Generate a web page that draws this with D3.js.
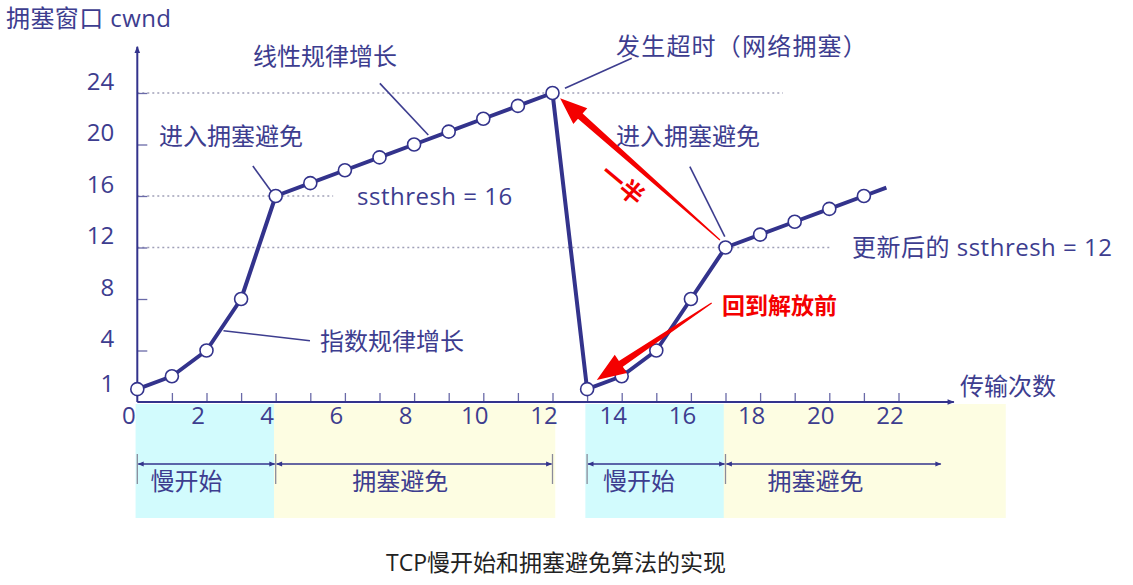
<!DOCTYPE html>
<html lang="zh-CN">
<head>
  <meta charset="UTF-8">
  <script src="https://cdn.jsdelivr.net/npm/d3@7/dist/d3.min.js"></script>
  <title>TCP慢开始和拥塞避免算法的实现</title>
  <style>
    body { margin: 0; background: #fff; }
    svg { display: block; font-family: "Open Sans", "Noto Sans CJK SC", sans-serif; }
    .lbl { fill: #3d3d8f; font-size: 24px; dominant-baseline: central; }
    .leader { stroke: #3d3d8f; stroke-width: 1.6; fill: none; }
    .ref { stroke: #a0a0b8; stroke-width: 1.5; stroke-dasharray: 2,3; }
  </style>
</head>
<body>
<div id="chart"></div>
<script>
  // transmission rounds and cwnd values
  var rounds1 = [0, 1, 2, 3, 4, 5, 6, 7, 8, 9, 10, 11, 12];
  var cwnd1   = [1, 2, 4, 8, 16, 17, 18, 19, 20, 21, 22, 23, 24];
  var rounds2 = [13, 14, 15, 16, 17, 18, 19, 20, 21];
  var cwnd2   = [1, 2, 4, 8, 12, 13, 14, 15, 16];
  // the second line runs on a little past the last marker
  var tailRound = 21.65, tailCwnd = 16.65;

  var yTickValues = [1, 4, 8, 12, 16, 20, 24];
  var xTickValues = [0, 2, 4, 6, 8, 10, 12, 14, 16, 18, 20, 22];

  var phaseNames = ["慢开始", "拥塞避免", "慢开始", "拥塞避免"];
  var phaseFrom  = [0, 4, 13, 17];
  var phaseTo    = [4, 12, 17, 23.25];

  var width = 1133, height = 585;
  var navy = "#33338c", textCol = "#3d3d8f", red = "#f40000";

  var svg = d3.select("#chart").append("svg")
    .attr("width", width)
    .attr("height", height);

  var x = d3.scaleLinear().domain([0, 22]).range([137.3, 898.5]);
  var y = d3.scaleLinear().domain([0, 24]).range([402, 93]);

  var defs = svg.append("defs");
  defs.append("marker").attr("id", "axisArrow")
    .attr("viewBox", "0 0 10 10").attr("refX", 9).attr("refY", 5)
    .attr("markerWidth", 9).attr("markerHeight", 7).attr("orient", "auto")
    .attr("markerUnits", "userSpaceOnUse")
    .append("path").attr("d", "M0,1 L10,5 L0,9 Z").attr("fill", navy);
  defs.append("marker").attr("id", "tinyArrow")
    .attr("viewBox", "0 0 10 10").attr("refX", 9).attr("refY", 5)
    .attr("markerWidth", 7).attr("markerHeight", 6).attr("orient", "auto-start-reverse")
    .attr("markerUnits", "userSpaceOnUse")
    .append("path").attr("d", "M0,1 L10,5 L0,9 Z").attr("fill", navy);

  // phase bands below the axis
  var bandColors = ["#d2fbfd", "#fdfde2", "#d2fbfd", "#fdfde2"];
  var bandTo = [4, 12.08, 17, 25.1];
  svg.selectAll(".band").data(phaseNames).enter().append("rect")
    .attr("x", function(d, i) { return x(phaseFrom[i] - 0.05); })
    .attr("y", 404)
    .attr("width", function(d, i) { return x(bandTo[i]) - x(phaseFrom[i] - 0.05); })
    .attr("height", 114)
    .attr("fill", function(d, i) { return bandColors[i]; });

  // reference lines for ssthresh and the timeout peak
  var refLines = [[24, 18.66], [16, 5.66], [12, 20]];
  svg.selectAll(".ref").data(refLines).enter().append("line")
    .attr("class", "ref")
    .attr("x1", x(0)).attr("x2", function(d) { return x(d[1]); })
    .attr("y1", function(d) { return y(d[0]); }).attr("y2", function(d) { return y(d[0]); });

  // x axis: ticks at every round, labels at even rounds
  var xTicksG = svg.append("g")
    .attr("transform", "translate(0," + y(0) + ")")
    .call(d3.axisBottom(x).tickValues(d3.range(1, 23)).tickSize(-9).tickFormat(""));
  xTicksG.select(".domain").remove();
  xTicksG.selectAll("line").attr("stroke", "#6a6aa8").attr("stroke-width", 1.3);

  var xLabels = svg.append("g")
    .attr("transform", "translate(0," + y(0) + ")")
    .call(d3.axisBottom(x).tickValues(xTickValues).tickSize(0).tickPadding(5));
  xLabels.select(".domain").remove();
  xLabels.selectAll("text")
    .attr("dx", -9)
    .attr("font-size", 24)
    .attr("font-family", "Open Sans")
    .attr("fill", textCol);

  // y axis: ticks point into the plot
  var yAxis = svg.append("g")
    .attr("transform", "translate(" + x(0) + ",0)")
    .call(d3.axisLeft(y).tickValues(yTickValues).tickSize(-10).tickPadding(23));
  yAxis.select(".domain").remove();
  yAxis.selectAll("line")
    .attr("stroke", "#6a6aa8").attr("stroke-width", 1.3)
    .attr("opacity", function(d) { return d === 1 ? 0 : 1; });
  yAxis.selectAll("text")
    .attr("font-size", 24)
    .attr("font-family", "Open Sans")
    .attr("fill", textCol)
    .attr("dy", function(d) { return d === 1 ? "0.1em" : "-0.15em"; });

  // axis lines with arrows
  svg.append("line")
    .attr("x1", x(0)).attr("y1", y(0)).attr("x2", x(23.6)).attr("y2", y(0))
    .attr("stroke", navy).attr("stroke-width", 2).attr("marker-end", "url(#axisArrow)");
  svg.append("line")
    .attr("x1", x(0)).attr("y1", y(0)).attr("x2", x(0)).attr("y2", y(27.6))
    .attr("stroke", navy).attr("stroke-width", 2).attr("marker-end", "url(#axisArrow)");

  // phase brackets
  var bracketY = 464;
  var bounds = [0, 4, 12, 13, 17];
  svg.selectAll(".bound").data(bounds).enter().append("line")
    .attr("x1", function(d) { return x(d); }).attr("x2", function(d) { return x(d); })
    .attr("y1", bracketY - 10).attr("y2", bracketY + 20)
    .attr("stroke", "#8a8a9a").attr("stroke-width", 1.3);
  svg.selectAll(".span").data(phaseNames).enter().append("line")
    .attr("x1", function(d, i) { return x(phaseFrom[i]) + 1; })
    .attr("x2", function(d, i) { return x(phaseTo[i]) - 1; })
    .attr("y1", bracketY).attr("y2", bracketY)
    .attr("stroke", navy).attr("stroke-width", 1.5)
    .attr("marker-start", "url(#tinyArrow)").attr("marker-end", "url(#tinyArrow)");
  var phaseLabelAt = [1.42, 7.6, 14.5, 19.6];
  svg.selectAll(".phase").data(phaseNames).enter().append("text")
    .attr("class", "lbl")
    .attr("x", function(d, i) { return x(phaseLabelAt[i]); })
    .attr("y", 480)
    .attr("text-anchor", "middle")
    .text(function(d) { return d; });

  // cwnd line
  var pts1 = rounds1.map(function(r, i) { return [r, cwnd1[i]]; });
  var pts2 = rounds2.map(function(r, i) { return [r, cwnd2[i]]; });
  var linePts = pts1.concat(pts2).concat([[tailRound, tailCwnd]]);
  var line = d3.line().x(function(d) { return x(d[0]); }).y(function(d) { return y(d[1]); });
  svg.append("path").datum(linePts)
    .attr("d", line)
    .attr("fill", "none").attr("stroke", navy).attr("stroke-width", 4)
    .attr("stroke-linejoin", "round");

  // leader lines from labels to the curve (round, cwnd)
  var leaders = [
    [[7.01, 24.75], [8.41, 20.74]],
    [[3.34, 18.33], [3.91, 16.21]],
    [[4.99, 4.76], [2.49, 5.54]],
    [[14.29, 26.7], [12.36, 24.37]],
    [[15.97, 18.28], [16.98, 12.84]]
  ];
  svg.selectAll(".leader").data(leaders).enter().append("path")
    .attr("class", "leader")
    .attr("d", line);

  svg.selectAll(".pt").data(pts1.concat(pts2)).enter().append("circle")
    .attr("cx", function(d) { return x(d[0]); })
    .attr("cy", function(d) { return y(d[1]); })
    .attr("r", 6.5)
    .attr("fill", "#fff").attr("stroke", navy).attr("stroke-width", 1.6);

  // labels: text, left x, centre y, letter spacing
  var labels = [
    ["拥塞窗口 cwnd", 6, 17, 0.4],
    ["线性规律增长", 253, 55, 0],
    ["进入拥塞避免", 159, 135, 0],
    ["ssthresh = 16", 357, 195, 0.5],
    ["发生超时（网络拥塞）", 616, 45, 1.2],
    ["进入拥塞避免", 616, 135, 0],
    ["指数规律增长", 320, 340, 0],
    ["更新后的 ssthresh = 12", 852, 246, 0.5],
    ["传输次数", 960, 385, 0]
  ];
  svg.selectAll(".txt").data(labels).enter().append("text")
    .attr("class", "lbl")
    .attr("x", function(d) { return d[1]; })
    .attr("y", function(d) { return d[2]; })
    .attr("letter-spacing", function(d) { return d[3]; })
    .text(function(d) { return d[0]; });

  // red tapered arrows
  function taper(from, to, headLen, headHalf, wTail, wHead) {
    var x1 = x(from[0]), y1 = y(from[1]), x2 = x(to[0]), y2 = y(to[1]);
    var L = Math.hypot(x2 - x1, y2 - y1), ux = (x2 - x1) / L, uy = (y2 - y1) / L;
    var nx = -uy, ny = ux;
    var bx = x2 - ux * headLen, by = y2 - uy * headLen;
    return "M" + [
      [x1 + nx * wTail / 2, y1 + ny * wTail / 2],
      [bx + nx * wHead / 2, by + ny * wHead / 2],
      [bx + nx * headHalf, by + ny * headHalf],
      [x2, y2],
      [bx - nx * headHalf, by - ny * headHalf],
      [bx - nx * wHead / 2, by - ny * wHead / 2],
      [x1 - nx * wTail / 2, y1 - ny * wTail / 2]
    ].map(function(p) { return p.join(","); }).join("L") + "Z";
  }
  svg.append("path")
    .attr("d", taper([16.84, 12.58], [12.22, 23.59], 27, 10.5, 1.2, 7))
    .attr("fill", red);
  svg.append("path")
    .attr("d", taper([16.6, 7.69], [13.28, 1.71], 29, 11, 1.2, 7))
    .attr("fill", red);

  svg.append("text")
    .attr("x", 722).attr("y", 305)
    .attr("font-size", 23).attr("font-weight", "bold")
    .attr("dominant-baseline", "central")
    .attr("fill", red)
    .text("回到解放前");

  svg.append("text")
    .attr("transform", "translate(623,184) rotate(40)")
    .attr("text-anchor", "middle").attr("dominant-baseline", "central")
    .attr("font-size", 24).attr("font-weight", "bold")
    .attr("fill", red)
    .text("一半");

  // caption
  svg.append("text")
    .attr("x", 556).attr("y", 562)
    .attr("text-anchor", "middle").attr("dominant-baseline", "central")
    .attr("font-size", 23).attr("fill", "#222")
    .text("TCP慢开始和拥塞避免算法的实现");
</script>
</body>
</html>
